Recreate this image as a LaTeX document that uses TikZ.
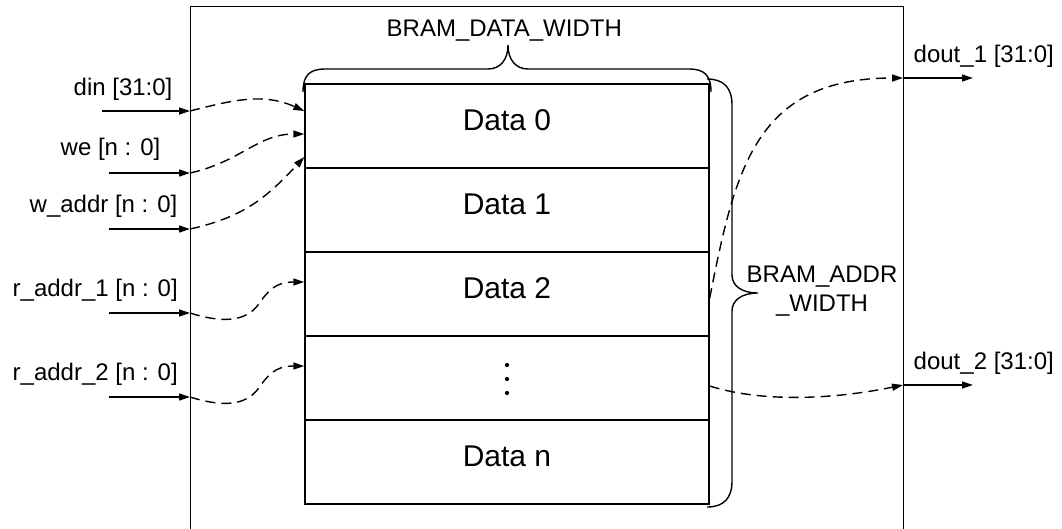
\documentclass[tikz,border=0pt]{standalone}
\usepackage{fontspec}
\setmainfont{Liberation Sans}
\usetikzlibrary{arrows.meta,calc}
\begin{document}
\begin{tikzpicture}[x=1pt,y=-1pt,line width=1.4pt,
  sig/.style={-{Triangle[length=11pt,width=7pt]}},
  flow/.style={sig,dash pattern=on 10pt off 6pt},
  rowbox/.style={draw,minimum width=404pt,minimum height=84pt,inner sep=0pt,
    font=\fontsize{30}{36}\selectfont,text depth=11pt},
  port/.style={font=\fontsize{24}{29}\selectfont,inner sep=0pt,anchor=base west}]

\useasboundingbox (0,0) rectangle (1062,528);
\clip (0,0) rectangle (1062,528);

% BRAM block (runs off the lower edge)
\node[draw,anchor=north west,minimum width=713pt,minimum height=620pt,inner sep=0pt] (bram) at (190,6) {};

% memory rows
\node[rowbox] (d0) at (507,126) {Data 0};
\node[rowbox] (d1) at (507,210) {Data 1};
\node[rowbox] (d2) at (507,294) {Data 2};
\node[rowbox] (d3) at (507,378) {};
\node[rowbox] (dn) at (507,462) {Data n};
\foreach \dy in {-13,1,15}
  \fill ($(d3.center)+(0,\dy)$) circle (2.1pt);

% width braces
\draw (303,92) .. controls (303,76) and (309,69) .. (325,69) -- (488,69)
  .. controls (500,69) and (508,60) .. (508,45)
  .. controls (508,60) and (516,69) .. (528,69) -- (689,69)
  .. controls (705,69) and (711,76) .. (711,92);
\draw (707,79) .. controls (724,79) and (732,88) .. (732,105) -- (732,275)
  .. controls (732,286) and (742,293) .. (758,293)
  .. controls (742,293) and (732,300) .. (732,311) -- (732,481)
  .. controls (732,498) and (724,507) .. (707,507);
\node[port] (dw-lbl) at (386,36) {BRAM\_DATA\_WIDTH};
\node[font=\fontsize{24}{29}\selectfont,inner sep=0pt,align=center,anchor=north] (aw-lbl) at (822,265) {BRAM\_ADDR\\\_WIDTH};

% port labels
\node[port] (din-lbl) at (73,95) {din [31:0]};
\node[port] (we-lbl) at (60,155) {we [n : 0]};
\node[port] (waddr-lbl) at (29,212) {w\_addr [n : 0]};
\node[port] (raddr1-lbl) at (12,296) {r\_addr\_1 [n : 0]};
\node[port] (raddr2-lbl) at (12,380) {r\_addr\_2 [n : 0]};
\node[port] (dout1-lbl) at (913,62) {dout\_1 [31:0]};
\node[port] (dout2-lbl) at (913,369) {dout\_2 [31:0]};

% port pins
\coordinate (din-src) at (102,111);   \coordinate (din-in) at (190,111);
\coordinate (we-src) at (109,173);    \coordinate (we-in) at (190,173);
\coordinate (waddr-src) at (109,229); \coordinate (waddr-in) at (190,229);
\coordinate (raddr1-src) at (109,313);\coordinate (raddr1-in) at (190,313);
\coordinate (raddr2-src) at (109,397);\coordinate (raddr2-in) at (190,397);
\coordinate (dout1-out) at (903,78);  \coordinate (dout1-dst) at (973,78);
\coordinate (dout2-out) at (903,385); \coordinate (dout2-dst) at (973,385);

% external signals
\draw[sig] (din-src) -- (din-in);
\draw[sig] (we-src) -- (we-in);
\draw[sig] (waddr-src) -- (waddr-in);
\draw[sig] (raddr1-src) -- (raddr1-in);
\draw[sig] (raddr2-src) -- (raddr2-in);
\draw[sig] (dout1-out) -- (dout1-dst);
\draw[sig] (dout2-out) -- (dout2-dst);

% internal routing
\draw[flow] (din-in) .. controls (230,101) and (262,92) .. ($(d0.west)+(0,-15)$);
\draw[flow] (we-in) .. controls (240,162) and (258,134) .. ($(d0.west)+(0,8)$);
\draw[flow] (waddr-in) .. controls (245,217) and (268,196) .. ($(d0.west)+(0,31)$);
\draw[flow] (raddr1-in) .. controls (222,323) and (245,322) .. (258,305)
  .. controls (268,291) and (275,282) .. ($(d2.west)+(0,-12)$);
\draw[flow] (raddr2-in) .. controls (222,407) and (245,406) .. (258,389)
  .. controls (268,375) and (275,366) .. ($(d3.west)+(0,-12)$);
\draw[flow] ($(d2.east)+(0,4)$) .. controls (735,170) and (755,78) .. (dout1-out);
\draw[flow] ($(d3.east)+(0,8)$) .. controls (760,402) and (830,400) .. (dout2-out);
\end{tikzpicture}
\end{document}
